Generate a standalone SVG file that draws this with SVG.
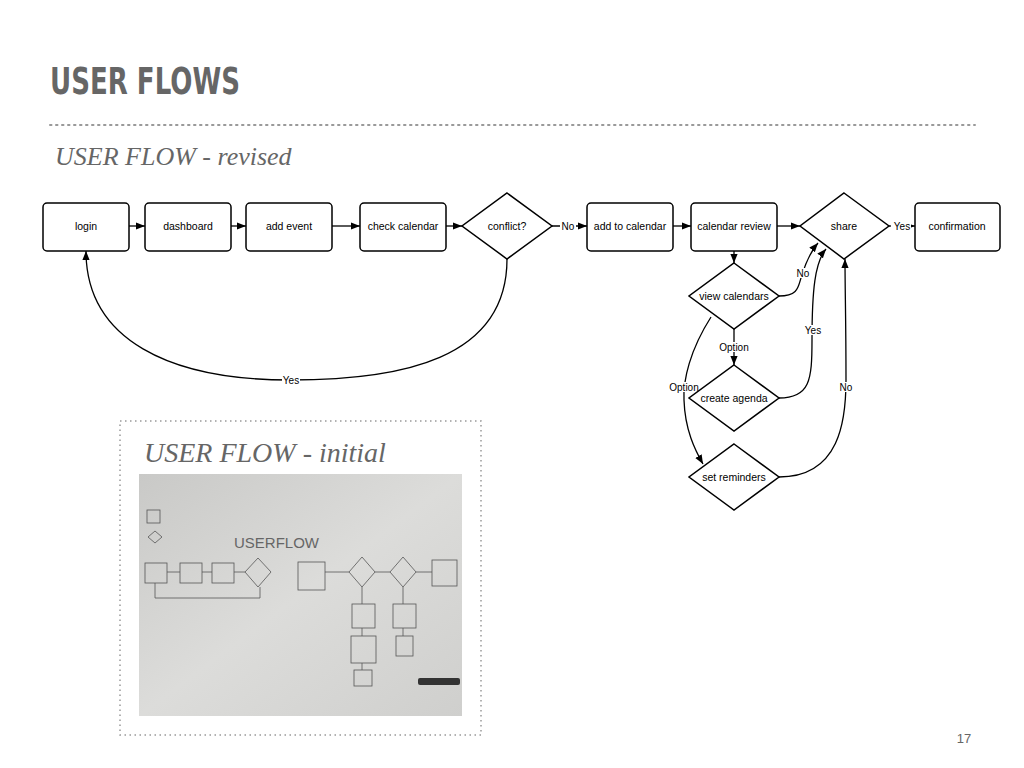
<svg xmlns="http://www.w3.org/2000/svg" width="1024" height="768" viewBox="0 0 1024 768">
<defs>
<marker id="ah" viewBox="0 0 10 10" refX="10" refY="5" markerWidth="7" markerHeight="7" orient="auto"><path d="M0,1 L10,5 L0,9 z" fill="#000"/></marker>
<linearGradient id="wb" x1="0" y1="0" x2="1" y2="1"><stop offset="0" stop-color="#c9c9c7"/><stop offset="0.5" stop-color="#dcdcda"/><stop offset="1" stop-color="#cfcfcd"/></linearGradient>
</defs>
<style>
.n{fill:#fff;stroke:#000;stroke-width:1.5}
.t{font-family:"Liberation Sans",Arial,sans-serif;font-size:10.5px;fill:#000;text-anchor:middle}
.c{fill:none;stroke:#000;stroke-width:1.3}
.lb{font-family:"Liberation Sans",Arial,sans-serif;font-size:10px;fill:#000;text-anchor:middle}
.it{font-family:"Liberation Serif",serif;font-style:italic;fill:#666}
.sk{fill:none;stroke:#555;stroke-width:0.8}
</style>
<rect width="1024" height="768" fill="#fff"/>
<text x="50" y="94" font-family="DejaVu Sans,sans-serif" font-weight="bold" font-size="38" fill="#666" textLength="190" lengthAdjust="spacingAndGlyphs">USER FLOWS</text>
<line x1="50" y1="125" x2="975" y2="125" stroke="#999" stroke-width="2" stroke-dasharray="1.5,4.5" stroke-linecap="round"/>
<text class="it" x="55" y="165" font-size="26">USER FLOW - revised</text>

<g id="connectors">
<line class="c" x1="129" y1="226" x2="145" y2="226" marker-end="url(#ah)"/>
<line class="c" x1="231" y1="226" x2="246" y2="226" marker-end="url(#ah)"/>
<line class="c" x1="332" y1="226" x2="360" y2="226" marker-end="url(#ah)"/>
<line class="c" x1="446" y1="226" x2="462" y2="226" marker-end="url(#ah)"/>
<line class="c" x1="552" y1="226" x2="587" y2="226" marker-end="url(#ah)"/>
<line class="c" x1="673" y1="226" x2="691" y2="226" marker-end="url(#ah)"/>
<line class="c" x1="777" y1="226" x2="800" y2="226" marker-end="url(#ah)"/>
<line class="c" x1="889" y1="226" x2="915" y2="226" marker-end="url(#ah)"/>
<line class="c" x1="734" y1="251" x2="734" y2="263" marker-end="url(#ah)"/>
<line class="c" x1="734" y1="329" x2="734" y2="365" marker-end="url(#ah)"/>
<path class="c" d="M507,259 C507,360 400,380 290,380 C170,380 86,340 86,251" marker-end="url(#ah)"/>
<path class="c" d="M779,296 C800,296 798,285 802,275 C806,262 812,250 818,243" marker-end="url(#ah)"/>
<path class="c" d="M779,398 C810,398 812,380 812,340 C812,290 815,262 826,249" marker-end="url(#ah)"/>
<path class="c" d="M779,477 C840,477 846,420 846,380 C846,320 845,290 845,259" marker-end="url(#ah)"/>
<path class="c" d="M711,317 C690,350 683,380 684,400 C685,430 695,450 703,464" marker-end="url(#ah)"/>
<rect x="282" y="375" width="18" height="10" fill="#fff"/><text class="lb" x="291" y="384">Yes</text>
<rect x="560" y="221" width="16" height="10" fill="#fff"/><text class="lb" x="568" y="230">No</text>
<rect x="891" y="221" width="20" height="10" fill="#fff"/><text class="lb" x="902" y="230">Yes</text>
<rect x="795" y="268" width="16" height="10" fill="#fff"/><text class="lb" x="803" y="277">No</text>
<rect x="803" y="325" width="20" height="10" fill="#fff"/><text class="lb" x="813" y="334">Yes</text>
<rect x="838" y="382" width="16" height="10" fill="#fff"/><text class="lb" x="846" y="391">No</text>
<rect x="718" y="342" width="32" height="10" fill="#fff"/><text class="lb" x="734" y="351">Option</text>
<rect x="668" y="382" width="32" height="10" fill="#fff"/><text class="lb" x="684" y="391">Option</text>
</g>

<g id="login"><rect class="n" x="43" y="203" width="86" height="48" rx="4"/><text class="t" x="86" y="230">login</text></g>
<g id="dashboard"><rect class="n" x="145" y="203" width="86" height="48" rx="4"/><text class="t" x="188" y="230">dashboard</text></g>
<g id="add-event"><rect class="n" x="246" y="203" width="86" height="48" rx="4"/><text class="t" x="289" y="230">add event</text></g>
<g id="check-calendar"><rect class="n" x="360" y="203" width="86" height="48" rx="4"/><text class="t" x="403" y="230">check calendar</text></g>
<g id="conflict"><path class="n" d="M507,193 L552,226 L507,259 L462,226 Z"/><text class="t" x="507" y="230">conflict?</text></g>
<g id="add-to-calendar"><rect class="n" x="587" y="203" width="86" height="48" rx="4"/><text class="t" x="630" y="230">add to calendar</text></g>
<g id="calendar-review"><rect class="n" x="691" y="203" width="86" height="48" rx="4"/><text class="t" x="734" y="230">calendar review</text></g>
<g id="share"><path class="n" d="M844,193 L889,226 L844,259 L800,226 Z"/><text class="t" x="844" y="230">share</text></g>
<g id="confirmation"><rect class="n" x="915" y="203" width="85" height="48" rx="4"/><text class="t" x="957" y="230">confirmation</text></g>
<g id="view-calendars"><path class="n" d="M734,263 L779,296 L734,329 L689,296 Z"/><text class="t" x="734" y="300">view calendars</text></g>
<g id="create-agenda"><path class="n" d="M734,365 L779,398 L734,431 L689,398 Z"/><text class="t" x="734" y="402">create agenda</text></g>
<g id="set-reminders"><path class="n" d="M734,444 L779,477 L734,510 L689,477 Z"/><text class="t" x="734" y="481">set reminders</text></g>

<g id="initial">
<rect x="120" y="421" width="361" height="314" fill="none" stroke="#999" stroke-width="1.5" stroke-dasharray="1.5,3.5"/>
<text class="it" x="144" y="462" font-size="28">USER FLOW - initial</text>
<rect x="139" y="474" width="323" height="242" fill="url(#wb)"/>
<g class="sk">
<rect x="147" y="510" width="13" height="13"/>
<path d="M155,531 L162,537 L155,543 L148,537 Z"/>
<rect x="145" y="563" width="22" height="20"/><rect x="180" y="563" width="22" height="20"/><rect x="212" y="563" width="22" height="20"/>
<path d="M258,558 L271,572 L258,587 L245,572 Z"/>
<rect x="298" y="562" width="27" height="28"/>
<path d="M362,557 L375,572 L362,587 L349,572 Z"/>
<path d="M403,557 L416,572 L403,587 L390,572 Z"/>
<rect x="432" y="560" width="25" height="26"/>
<path d="M167,572 L180,572 M202,572 L212,572 M234,572 L245,572 M325,572 L349,572 M375,572 L390,572 M416,572 L432,572"/>
<path d="M155,583 L155,598 L260,598 L260,587 M362,587 L362,604 M403,587 L403,604 M362,628 L362,636 M362,663 L362,670 M403,628 L403,636"/>
<rect x="352" y="604" width="23" height="24"/><rect x="351" y="636" width="25" height="27"/><rect x="354" y="670" width="18" height="16"/>
<rect x="393" y="604" width="23" height="24"/><rect x="396" y="636" width="17" height="20"/>
</g>
<text x="234" y="548" font-family="Liberation Sans,sans-serif" font-size="15" fill="#666">USERFLOW</text>
<rect x="418" y="678" width="42" height="7" rx="2" fill="#333"/>
</g>

<text x="964" y="743" font-family="Liberation Sans,sans-serif" font-size="13" fill="#666" text-anchor="middle">17</text>
</svg>
